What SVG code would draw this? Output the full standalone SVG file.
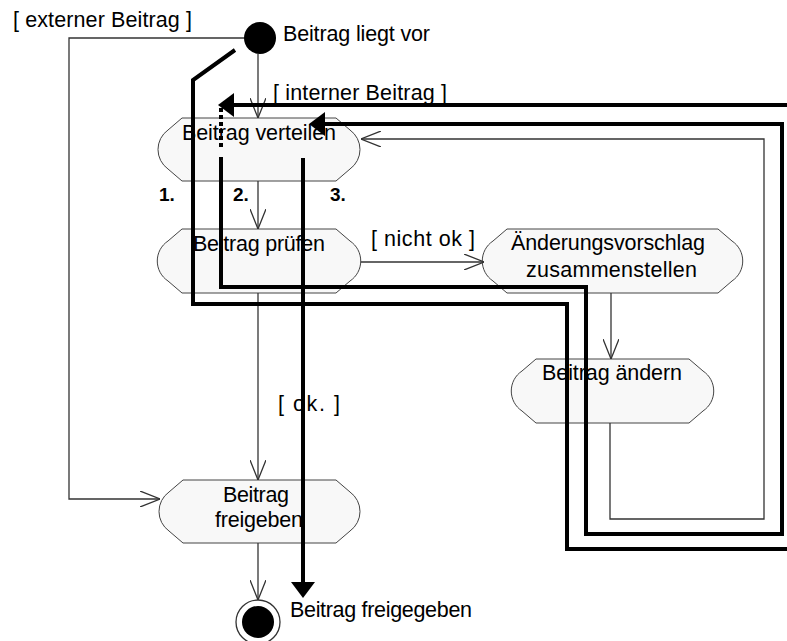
<svg xmlns="http://www.w3.org/2000/svg" width="787" height="641" viewBox="0 0 787 641">
<defs>
<style>
.node{fill:#f8f8f8;stroke:#444;stroke-width:1}
.t{font-family:"Liberation Sans",Arial,sans-serif;font-size:21.5px;fill:#000}
.b{font-family:"Liberation Sans",Arial,sans-serif;font-size:19px;font-weight:bold;fill:#000}
.thin{fill:none;stroke:#333;stroke-width:1.3;marker-end:url(#open)}
.thick{fill:none;stroke:#000;stroke-width:4;marker-end:url(#solid)}
</style>
<marker id="open" markerUnits="userSpaceOnUse" viewBox="0 0 20 16" refX="20" refY="8" markerWidth="20" markerHeight="16" orient="auto">
<path d="M0,0 L20,8 L0,16" fill="none" stroke="#333" stroke-width="1.3"/>
</marker>
<marker id="solid" markerUnits="userSpaceOnUse" viewBox="0 0 16 24" refX="0" refY="12" markerWidth="16" markerHeight="24" orient="auto">
<path d="M0,0 L16,12 L0,24 Z" fill="#000"/>
</marker>
</defs>
<rect width="787" height="641" fill="#fff"/>

<g id="start">
<circle cx="260" cy="38" r="16" fill="#000"/>
<text class="t" x="283" y="41" textLength="147" lengthAdjust="spacing">Beitrag liegt vor</text>
</g>

<g id="verteilen">
<path class="node" d="M182,118 H336 L350,130 A24,24 0 0 1 350,169 L336,181 H182 L168,169 A24,24 0 0 1 168,130 Z"/>
<text class="t" x="182" y="140" textLength="154" lengthAdjust="spacing">Beitrag verteilen</text>
</g>

<g id="pruefen">
<path class="node" d="M182,229 H336 L350,241 A24,24 0 0 1 350,281 L336,293 H182 L168,281 A24,24 0 0 1 168,241 Z"/>
<text class="t" x="193" y="251" textLength="132" lengthAdjust="spacing">Beitrag prüfen</text>
</g>

<g id="vorschlag">
<path class="node" d="M507,229 H718 L732,241 A24,24 0 0 1 732,281 L718,293 H507 L493,281 A24,24 0 0 1 493,241 Z"/>
<text class="t" x="511" y="250" textLength="194" lengthAdjust="spacing">Änderungsvorschlag</text>
<text class="t" x="526" y="277" textLength="171" lengthAdjust="spacing">zusammenstellen</text>
</g>

<g id="aendern">
<path class="node" d="M536,359 H689 L703,371 A24,24 0 0 1 703,411 L689,423 H536 L522,411 A24,24 0 0 1 522,371 Z"/>
<text class="t" x="542" y="380" textLength="140" lengthAdjust="spacing">Beitrag ändern</text>
</g>

<g id="freigeben">
<path class="node" d="M183,480 H336 L350,492 A24,24 0 0 1 350,531 L336,543 H183 L169,531 A24,24 0 0 1 169,492 Z"/>
<text class="t" x="223" y="502" textLength="66" lengthAdjust="spacing">Beitrag</text>
<text class="t" x="215" y="527" textLength="88" lengthAdjust="spacing">freigeben</text>
</g>

<g id="end">
<circle cx="258" cy="622" r="22" fill="#fff" stroke="#333" stroke-width="1.3"/>
<circle cx="258" cy="622" r="16" fill="#000"/>
<text class="t" x="290" y="617" textLength="182" lengthAdjust="spacing">Beitrag freigegeben</text>
</g>

<g id="connectors">
<path class="thin" d="M244,38 H69 V499 H160"/>
<path class="thin" d="M258,54 V118"/>
<path class="thin" d="M258,181 V229"/>
<path class="thin" d="M258,293 V480"/>
<path class="thin" d="M361,262 H484"/>
<path class="thin" d="M611,293 V359"/>
<path class="thin" d="M610,423 V519 H764 V139 H361"/>
<path class="thin" d="M258,543 V600"/>

<path class="thick" d="M235,50 L193,80 V304 H567 V549 H800 V105 H234"/>
<path d="M221,108 V150" fill="none" stroke="#000" stroke-width="4" stroke-dasharray="4 3"/>
<path class="thick" d="M221,157 V287 H586 V534 H782 V124 H325"/>
<path class="thick" d="M303,158 V582"/>

<text class="t" x="13" y="27" textLength="179" lengthAdjust="spacing">[ externer Beitrag ]</text>
<text class="t" x="273" y="100" textLength="174" lengthAdjust="spacing">[ interner Beitrag ]</text>
<text class="t" x="371" y="246" textLength="104" lengthAdjust="spacing">[ nicht ok ]</text>
<text class="t" x="278" y="411" textLength="62" lengthAdjust="spacing">[ ok. ]</text>
<text class="b" x="159" y="201">1.</text>
<text class="b" x="233" y="201">2.</text>
<text class="b" x="330" y="201">3.</text>
</g>
</svg>
